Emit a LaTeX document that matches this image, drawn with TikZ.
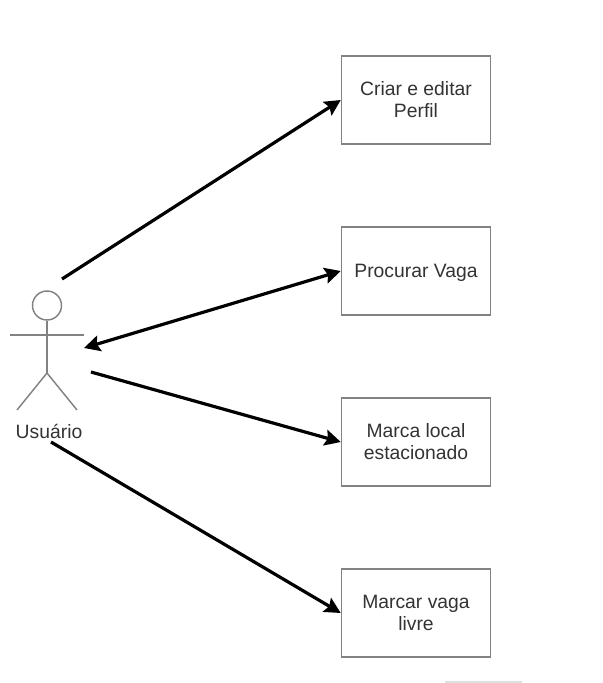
\documentclass[tikz,border=0pt]{standalone}
\usepackage{fontspec}
\setmainfont{Liberation Sans}
\usetikzlibrary{arrows.meta}
\definecolor{boxgray}{RGB}{130,130,130}
\definecolor{textgray}{RGB}{51,51,51}
\tikzset{
    casebox/.style={draw=boxgray, line width=1.1pt, fill=white, text=textgray, minimum width=111.75pt, minimum height=66pt, align=center, inner sep=0pt, font=\fontsize{14.5}{16.5}\selectfont, execute at begin node={\rule{0pt}{12.5pt}}},
    actorline/.style={draw=boxgray, line width=1.1pt},
    assoc/.style={line width=2.4pt, draw=black, -{Stealth[length=12pt,width=12pt,inset=2pt]}},
    assocboth/.style={line width=2.4pt, draw=black, {Stealth[length=12pt,width=12pt,inset=2pt]}-{Stealth[length=12pt,width=12pt,inset=2pt]}}
}
\begin{document}
\begin{tikzpicture}[x=0.75pt, y=-0.75pt]
    \useasboundingbox (0,0) rectangle (603,683);

    % Use cases
    \node[casebox] (perfil) at (416,100) {Criar e editar\\Perfil};
    \node[casebox] (procurar) at (416,271) {Procurar Vaga};
    \node[casebox] (marca) at (416,442) {Marca local\\estacionado};
    \node[casebox] (livre) at (416,613) {Marcar vaga\\livre};

    % Actor
    \node[draw=boxgray, line width=1.1pt, circle, minimum size=21.75pt, inner sep=0pt] (head) at (47,305.5) {};
    \coordinate (hip) at (47,373);
    \coordinate (armleft) at (10,335);
    \coordinate (armright) at (84,335);
    \coordinate (footleft) at (17,410);
    \coordinate (footright) at (77,410);
    \draw[actorline] (head.south) -- (hip);
    \draw[actorline] (armleft) -- (armright);
    \draw[actorline] (footleft) -- (hip) -- (footright);
    \node[text=textgray, inner sep=0pt, font=\fontsize{14.5}{16.5}\selectfont] (usuario) at (49,431) {Usuário};

    % Connectors
    \coordinate (startperfil) at (62,279);
    \coordinate (endprocurar) at (84,348);
    \coordinate (startmarca) at (91,372);
    \coordinate (startlivre) at (51,442);
    \draw[assoc] (startperfil) -- (perfil.west);
    \draw[assocboth] (endprocurar) -- (procurar.west);
    \draw[assoc] (startmarca) -- (marca.west);
    \draw[assoc] (startlivre) -- (livre.west);

    % Faint line at the bottom edge
    \coordinate (faintleft) at (445,682);
    \coordinate (faintright) at (522,682);
    \draw[black!12, line width=1.2pt] (faintleft) -- (faintright);
\end{tikzpicture}
\end{document}
